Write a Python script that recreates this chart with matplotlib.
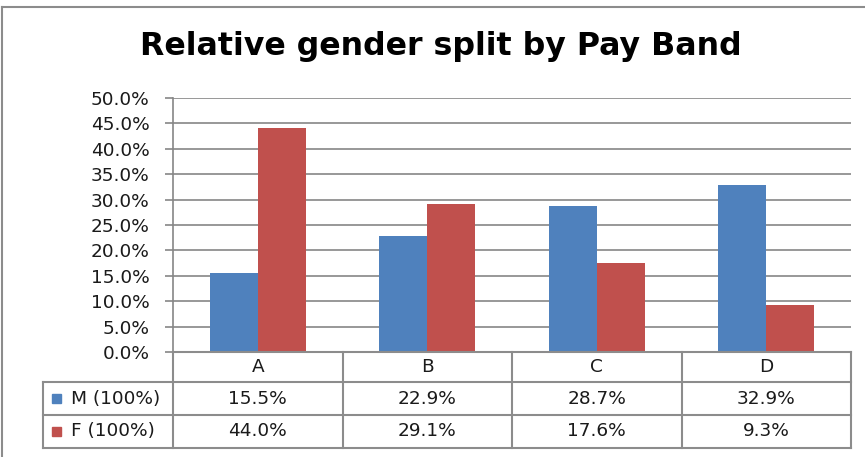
import matplotlib.pyplot as plt
from matplotlib.lines import Line2D
from matplotlib.patches import Rectangle

# Datos del gráfico
bandas = ["A", "B", "C", "D"]
series = ["M (100%)", "F (100%)"]
valores_m = [15.5, 22.9, 28.7, 32.9]
valores_f = [44.0, 29.1, 17.6, 9.3]
colores = ["#4F81BD", "#C0504D"]

W, H = 865, 457
fig = plt.figure(figsize=(W / 100, H / 100), dpi=100)


def fx(x):
    return x / W


def fy(y):
    return 1 - y / H


# marco exterior del gráfico
fig.add_artist(Line2D([fx(2), fx(2)], [fy(7), 0], color="#8c8c8c", lw=1.5))
fig.add_artist(Line2D([fx(2), 1], [fy(7), fy(7)], color="#8c8c8c", lw=1.5))

# área de trazado
izq, der, arriba, abajo = 173, 851, 98, 352
ax = fig.add_axes([fx(izq), fy(abajo), fx(der - izq), (abajo - arriba) / H])

x = range(len(bandas))
ancho = 0.283
ax.bar([i - ancho / 2 for i in x], valores_m, ancho, color=colores[0], zorder=3)
ax.bar([i + ancho / 2 for i in x], valores_f, ancho, color=colores[1], zorder=3)

ax.set_xlim(-0.5, 3.5)
ax.set_ylim(0, 50)
ax.set_yticks(range(0, 51, 5))
ax.set_yticklabels(["{:.1f}%".format(v) for v in range(0, 51, 5)])
ax.set_xticks([])
ax.grid(axis="y", color="#868686", lw=1.2, zorder=0)
for s in ["top", "right", "bottom"]:
    ax.spines[s].set_visible(False)
ax.spines["left"].set_color("#868686")
ax.spines["left"].set_linewidth(1.2)
ax.tick_params(axis="y", length=6, width=1.2, color="#868686", labelsize=13.3,
               labelcolor="#1a1a1a", pad=11)

# título
fig.text(fx(441), fy(47), "Relative gender split by Pay Band", ha="center", va="center",
         fontsize=22.8, fontweight="bold", color="black")

# tabla de datos
ancho_col = (der - izq) / len(bandas)
filas = [352, 382, 415, 448]
gris = "#8c8c8c"
leg_izq = 43
fs = 13.3

# líneas horizontales
fig.add_artist(Line2D([fx(izq), fx(der)], [fy(filas[0]), fy(filas[0])], color=gris, lw=1.5))
for y in filas[1:]:
    fig.add_artist(Line2D([fx(leg_izq), fx(der)], [fy(y), fy(y)], color=gris, lw=1.5))
# líneas verticales
for i in range(len(bandas) + 1):
    xc = izq + i * ancho_col
    fig.add_artist(Line2D([fx(xc), fx(xc)], [fy(filas[0]), fy(filas[-1])], color=gris, lw=1.5))
fig.add_artist(Line2D([fx(leg_izq), fx(leg_izq)], [fy(filas[1]), fy(filas[-1])], color=gris, lw=1.5))

for i, b in enumerate(bandas):
    xc = izq + (i + 0.5) * ancho_col
    fig.text(fx(xc), fy((filas[0] + filas[1]) / 2), b, ha="center", va="center",
             fontsize=fs, color="#1a1a1a")
    fig.text(fx(xc), fy((filas[1] + filas[2]) / 2), "{:.1f}%".format(valores_m[i]),
             ha="center", va="center", fontsize=fs, color="#1a1a1a")
    fig.text(fx(xc), fy((filas[2] + filas[3]) / 2), "{:.1f}%".format(valores_f[i]),
             ha="center", va="center", fontsize=fs, color="#1a1a1a")

for j, nombre in enumerate(series):
    yc = (filas[j + 1] + filas[j + 2]) / 2
    fig.add_artist(Rectangle((fx(52), fy(yc + 4.5)), 9 / W, 9 / H, color=colores[j]))
    fig.text(fx(71), fy(yc), nombre, ha="left", va="center", fontsize=fs, color="#1a1a1a")

fig.savefig("out.png", dpi=100)
